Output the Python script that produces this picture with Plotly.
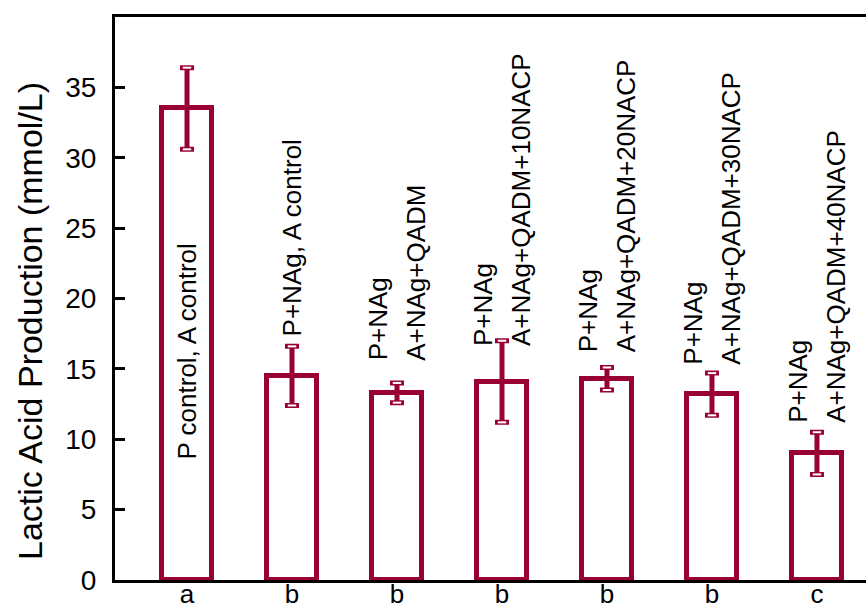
import plotly.graph_objects as go

# Lactic acid production per treatment group (mean ± SD)
groups = ["a", "b", "b", "b", "b", "b", "c"]
means = [33.5, 14.5, 13.3, 14.1, 14.3, 13.2, 9.0]
sds = [2.9, 2.1, 0.7, 2.9, 0.8, 1.5, 1.5]
line1 = ["P control, A control", "P+NAg, A control", "P+NAg", "P+NAg", "P+NAg", "P+NAg", "P+NAg"]
line2 = ["", "", "A+NAg+QADM", "A+NAg+QADM+10NACP", "A+NAg+QADM+20NACP",
         "A+NAg+QADM+30NACP", "A+NAg+QADM+40NACP"]
y_ticks = [0, 5, 10, 15, 20, 25, 30, 35]
y_title = "Lactic Acid Production (mmol/L)"

RED = "#990036"
FONT = "Liberation Sans, Arial, sans-serif"
idx = list(range(len(groups)))

fig = go.Figure()
fig.add_trace(go.Bar(
    x=idx, y=means, width=0.476,
    marker=dict(color="rgba(0,0,0,0)", line=dict(color=RED, width=5)),
    error_y=dict(type="data", array=sds, color=RED, thickness=5, width=7),
    showlegend=False, hoverinfo="skip",
))
# small white slot inside each error-bar cap
cap_x = idx + idx
cap_y = [m + s for m, s in zip(means, sds)] + [m - s for m, s in zip(means, sds)]
fig.add_trace(go.Scatter(
    x=cap_x, y=cap_y, mode="markers",
    marker=dict(symbol="line-ew", size=6, line=dict(color="white", width=2)),
    showlegend=False, hoverinfo="skip",
))

# treatment labels, written vertically above (or inside) each bar
label_shift = [None, 37, 30, 33, 25, 28, 29]
annotations = []
for i in idx:
    if i == 0:
        annotations.append(dict(
            x=i, y=means[i], xref="x", yref="y", text=line1[i], textangle=-90,
            showarrow=False, yanchor="top", xanchor="center", yshift=-133,
            font=dict(family=FONT, size=26, color="black"),
        ))
        continue
    if line2[i]:
        parts = [(line1[i], -19), (line2[i], 19)]
    else:
        parts = [(line1[i], 0)]
    for txt, dx in parts:
        annotations.append(dict(
            x=i, y=means[i], xref="x", yref="y", text=txt, textangle=-90,
            showarrow=False, yanchor="bottom", xanchor="center",
            yshift=label_shift[i], xshift=dx,
            font=dict(family=FONT, size=26, color="black"),
        ))

# y-axis title placed as a rotated annotation left of the tick labels
annotations.append(dict(
    x=0, y=0.46, xref="paper", yref="paper", text=y_title, textangle=-90,
    showarrow=False, xanchor="center", yanchor="middle", xshift=-85,
    font=dict(family=FONT, size=34, color="black"),
))

fig.update_layout(
    width=866, height=610,
    margin=dict(l=115, r=0, t=17, b=30, autoexpand=False),
    paper_bgcolor="white", plot_bgcolor="white",
    font=dict(family=FONT, color="black"),
    bargap=0,
    annotations=annotations,
    xaxis=dict(
        range=[-0.686, 6.467], tickvals=idx, ticktext=groups,
        showline=True, linecolor="black", linewidth=3, mirror=True,
        ticks="", showgrid=False, zeroline=False,
        ticklabelstandoff=-11,
        tickfont=dict(family=FONT, size=26, color="black"),
        automargin=False,
    ),
    yaxis=dict(
        range=[0, 40], tickvals=y_ticks,
        showline=True, linecolor="black", linewidth=3,
        ticks="inside", ticklen=10, tickwidth=3, tickcolor="black",
        ticklabelstandoff=10,
        showgrid=False, zeroline=False,
        tickfont=dict(family=FONT, size=28, color="black"),
        automargin=False,
    ),
)

fig.write_html("out.html")
